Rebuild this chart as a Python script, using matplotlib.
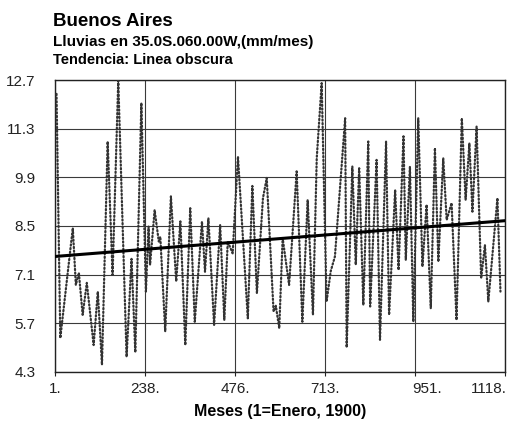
import matplotlib
matplotlib.use("Agg")
import matplotlib.pyplot as plt
from matplotlib.transforms import ScaledTranslation

# Monthly rainfall series (month index counted from January 1900), values in mm/mes
months = [5, 15, 48, 56, 64, 74, 85, 103, 114, 125, 140, 153, 168, 190, 203, 213,
          229, 241, 248, 252, 264, 275, 279, 292, 307, 321, 332, 345, 358, 370,
          389, 397, 406, 421, 437, 448, 457, 470, 484, 510, 522, 534, 550, 560,
          578, 584, 593, 602, 619, 639, 654, 668, 682, 692, 705, 718, 729, 740,
          767, 771, 786, 795, 804, 815, 828, 833, 850, 859, 875, 883, 899, 908,
          921, 927, 938, 947, 960, 971, 982, 993, 1004, 1013, 1026, 1035, 1048,
          1061, 1075, 1085, 1095, 1103, 1114, 1126, 1136, 1145, 1169, 1177]
rain = [12.3, 5.27, 8.44, 6.8, 7.15, 5.94, 6.86, 5.07, 6.61, 4.5, 10.93, 7.09,
        12.68, 4.73, 7.55, 4.86, 12.04, 6.61, 8.48, 7.38, 8.96, 8.05, 8.19, 5.46,
        9.35, 6.9, 8.63, 5.07, 9.01, 5.74, 8.63, 7.18, 8.72, 5.65, 8.53, 5.79,
        8.05, 7.71, 10.5, 5.84, 9.65, 6.56, 9.3, 9.88, 6.03, 6.2, 5.55, 8.15,
        6.8, 10.07, 5.74, 9.25, 5.94, 10.45, 12.61, 6.32, 7.2, 7.62, 11.6, 5.0,
        10.21, 7.38, 10.16, 6.22, 10.93, 6.18, 10.4, 5.22, 10.93, 5.94, 9.54,
        7.23, 11.08, 7.52, 10.21, 5.74, 11.6, 7.33, 9.11, 6.13, 10.74, 7.47,
        10.45, 8.67, 9.16, 5.79, 11.6, 9.25, 10.88, 8.91, 11.36, 6.99, 7.95,
        6.32, 9.3, 6.61]

# Linear trend (start and end of the record)
trend_months = [1, 1189]
trend_values = [7.62, 8.65]

y_ticks = [4.3, 5.7, 7.1, 8.5, 9.9, 11.3, 12.7]
x_ticks = [1, 238.6, 476.2, 713.8, 951.4, 1189]
x_tick_labels = ["1.", "238.", "476.", "713.", "951.", "1118."]

plt.rcParams["font.family"] = ["Liberation Sans", "DejaVu Sans"]

fig = plt.figure(figsize=(5.21, 4.22), dpi=100)
ax = fig.add_axes([55 / 521, 1 - 371.8 / 422, 450 / 521, (371.8 - 80) / 422])

ax.plot(months, rain, linestyle=(0, (0.55, 1.1)), color="#333333", linewidth=1.6,
        dash_capstyle="round", zorder=3)
ax.plot(trend_months, trend_values, color="black", linewidth=2.2, zorder=4)

ax.set_xlim(1, 1189)
ax.set_ylim(4.3, 12.7)
ax.set_yticks(y_ticks)
ax.set_yticklabels([f"{v:.1f}" for v in y_ticks], fontsize=11)
ax.set_xticks(x_ticks)
ax.set_xticklabels(x_tick_labels, fontsize=11)
ax.tick_params(axis="y", length=0, pad=14, colors="#222222")
ax.tick_params(axis="x", length=3, width=0.8, pad=4, colors="#222222")
ax.grid(True, color="#3a3a3a", linewidth=0.8)
for s in ax.spines.values():
    s.set_color("#222222")
    s.set_linewidth(1.0)

# the two rightmost labels sit to the right of / inside their ticks
xl = ax.get_xticklabels()
xl[4].set_transform(xl[4].get_transform() + ScaledTranslation(12 / 100, 0, fig.dpi_scale_trans))
xl[5].set_horizontalalignment("right")
xl[5].set_transform(xl[5].get_transform() + ScaledTranslation(2 / 100, 0, fig.dpi_scale_trans))

ax.set_xlabel("Meses (1=Enero, 1900)", fontsize=11.5, fontweight="bold", labelpad=6)

fig.text(53 / 521, 1 - 21 / 422, "Buenos Aires", fontsize=13.5, fontweight="bold",
         va="center", ha="left")
fig.text(53 / 521, 1 - 42 / 422, "Lluvias en 35.0S.060.00W,(mm/mes)", fontsize=11,
         fontweight="bold", va="center", ha="left")
fig.text(53 / 521, 1 - 60 / 422, "Tendencia: Linea obscura", fontsize=10.5,
         fontweight="bold", va="center", ha="left")

fig.savefig("out.png", dpi=100)
